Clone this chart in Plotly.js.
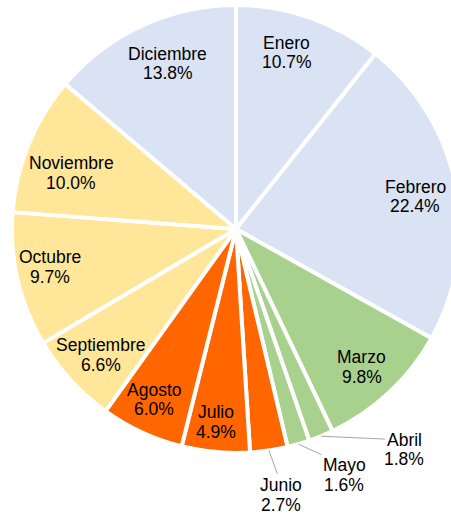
<!DOCTYPE html>
<html><head><meta charset="utf-8">
<script src="https://cdn.plot.ly/plotly-3.0.1.min.js"></script>
<style>html,body{margin:0;padding:0;overflow:hidden;background:#fff;width:451px;height:514px}</style>
</head><body>
<div id="chart" style="width:472px;height:514px"></div>
<script>
const months = ["Enero","Febrero","Marzo","Abril","Mayo","Junio","Julio","Agosto","Septiembre","Octubre","Noviembre","Diciembre"];
const shares = [10.7,22.4,9.8,1.8,1.6,2.7,4.9,6.0,6.6,9.7,10.0,13.8];
const colors = ["#dae3f3","#dae3f3","#a9d18e","#a9d18e","#a9d18e","#ff6600","#ff6600","#ff6600","#ffe699","#ffe699","#ffe699","#dae3f3"];
const outsideLabels = ["Abril","Mayo","Junio"];

// layout geometry (pixels)
const W = 472, H = 514;
const CX = 236, CY = 229, R = 224;
const INSIDE_FRAC = 0.82;
const HALF_LINE = 9.75;
// small label nudges (pixels) to mimic the original label placement
const insideNudge = {Enero: [-10, -3], Febrero: [-1, 3], Marzo: [0, 4], Julio: [-3, 10], Agosto: [-5, 4],
  Septiembre: [0, 2], Octubre: [-7, -4], Noviembre: [5, 14], Diciembre: [9, 1]};
const outsideOffsets = {Abril: [83, 13.5], Mayo: [46, 31], Junio: [12.5, 44.5]};
const FONT = {family: "Liberation Sans, Arial, sans-serif", size: 17.5, color: "#000"};

const total = shares.reduce((a, b) => a + b, 0);
const annotations = [];
const toX = px => px / W, toY = py => 1 - py / H;
function textPair(name, pct, x, y) {
  annotations.push({xref: "paper", yref: "paper", x: toX(x), y: toY(y - HALF_LINE), xanchor: "center", yanchor: "middle",
    text: name, showarrow: false, font: FONT});
  annotations.push({xref: "paper", yref: "paper", x: toX(x), y: toY(y + HALF_LINE), xanchor: "center", yanchor: "middle",
    text: pct, showarrow: false, font: FONT});
}
let cum = 0;
months.forEach((m, i) => {
  const mid = (cum + shares[i] / 2) / total * 2 * Math.PI;
  cum += shares[i];
  const pct = (shares[i] / total * 100).toFixed(1) + "%";
  if (outsideLabels.includes(m)) {
    const px = CX + R * Math.sin(mid), py = CY - R * Math.cos(mid);
    const off = outsideOffsets[m];
    // leader line from slice edge to the label
    annotations.push({
      xref: "paper", yref: "paper", x: toX(px), y: toY(py),
      text: m, showarrow: true, arrowhead: 0, arrowwidth: 1, arrowcolor: "#a6a6a6",
      ax: off[0], ay: off[1] - HALF_LINE, standoff: 0, startstandoff: 0,
      font: FONT, align: "center"
    });
    annotations.push({xref: "paper", yref: "paper", x: toX(px + off[0]), y: toY(py + off[1] + HALF_LINE),
      xanchor: "center", yanchor: "middle", text: pct, showarrow: false, font: FONT});
  } else {
    const n = insideNudge[m] || [0, 0];
    const px = CX + INSIDE_FRAC * R * Math.sin(mid) + n[0];
    const py = CY - INSIDE_FRAC * R * Math.cos(mid) + n[1];
    textPair(m, pct, px, py);
  }
});

Plotly.newPlot("chart", [{
  type: "pie",
  labels: months,
  values: shares,
  sort: false,
  direction: "clockwise",
  rotation: 0,
  marker: {colors: colors, line: {color: "#ffffff", width: 4}},
  textinfo: "none",
  hoverinfo: "none",
  domain: {x: [(CX - R) / W, (CX + R) / W], y: [1 - (CY + R) / H, 1 - (CY - R) / H]},
  automargin: false,
  showlegend: false
}], {
  width: W, height: H,
  margin: {l: 0, r: 0, t: 0, b: 0},
  paper_bgcolor: "#fff",
  showlegend: false,
  annotations: annotations
}, {staticPlot: true});
</script>
</body></html>
